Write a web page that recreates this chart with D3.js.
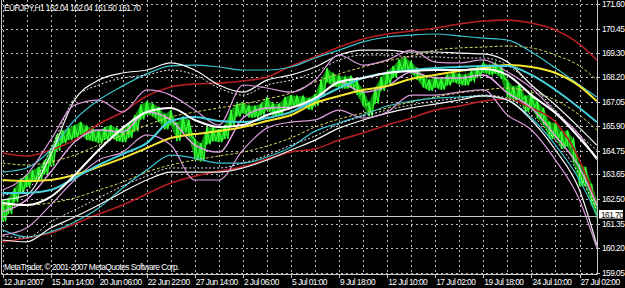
<!DOCTYPE html>
<html>
<head>
<meta charset="utf-8">
<script src="https://cdn.jsdelivr.net/npm/d3@7"></script>
<style>
  body { margin: 0; background: #000; }
  svg { display: block; }
  text { font-family: "Liberation Sans", Arial, sans-serif; font-size: 8.4px; letter-spacing: -0.55px; fill: #fff; }
</style>
</head>
<body>
<script>
// price axis labels and time axis labels
var priceTicks = [171.60, 170.45, 169.30, 168.20, 167.05, 165.90, 164.75, 163.65, 162.50, 161.35, 160.20, 159.05];
var timeLabels = ["12 Jun 2007", "15 Jun 14:00", "20 Jun 06:00", "22 Jun 22:00", "27 Jun 14:00", "2 Jul 06:00", "5 Jul 01:00",
  "9 Jul 18:00", "12 Jul 10:00", "17 Jul 02:00", "19 Jul 18:00", "24 Jul 10:00", "27 Jul 02:00"];
var lastPrice = 161.70;

// H1 price, high / low sampled every 8 bars
var priceHigh = [162.45, 162.55, 163.00, 163.45, 163.65, 163.85, 164.00, 164.30, 164.85, 165.50,
  165.70, 165.80, 165.95, 166.10, 165.90, 165.80, 165.70, 165.85, 165.95, 165.80,
  165.75, 166.00, 166.40, 166.90, 167.05, 166.95, 166.80, 166.45, 166.65, 166.05,
  166.35, 166.20, 165.30, 165.10, 165.85, 165.85, 165.75, 165.95, 166.65, 166.95,
  167.00, 166.85, 166.85, 166.95, 167.25, 166.95, 166.95, 167.25, 167.35, 167.30,
  167.30, 167.20, 167.40, 168.05, 168.60, 168.35, 168.25, 168.20, 168.25, 168.00,
  167.60, 167.00, 167.70, 168.20, 168.45, 168.70, 169.00, 169.10, 168.90, 168.60,
  168.25, 168.05, 168.20, 168.10, 168.30, 168.40, 168.35, 168.30, 168.45, 168.65,
  168.85, 168.75, 168.85, 168.70, 168.05, 167.75, 167.85, 167.30, 167.45, 167.05,
  166.75, 166.10, 166.05, 165.65, 165.70, 165.30, 164.10, 164.00, 163.20, 162.40];
var priceLow = [161.45, 161.80, 162.35, 162.80, 163.05, 163.30, 163.40, 163.65, 164.05, 164.75,
  165.10, 165.25, 165.35, 165.50, 165.25, 165.20, 165.10, 165.25, 165.40, 165.20,
  165.15, 165.35, 165.65, 166.20, 166.45, 166.35, 166.10, 165.75, 165.95, 165.20,
  165.65, 165.40, 164.35, 164.25, 165.05, 165.20, 165.15, 165.30, 165.90, 166.35,
  166.50, 166.30, 166.30, 166.40, 166.65, 166.40, 166.40, 166.70, 166.85, 166.85,
  166.85, 166.65, 166.85, 167.30, 167.95, 167.75, 167.70, 167.65, 167.70, 167.35,
  166.85, 166.35, 166.95, 167.55, 167.85, 168.15, 168.45, 168.55, 168.35, 168.05,
  167.70, 167.55, 167.70, 167.60, 167.80, 167.95, 167.85, 167.80, 168.00, 168.20,
  168.40, 168.30, 168.35, 168.10, 167.25, 167.05, 167.15, 166.55, 166.75, 166.25,
  165.95, 165.30, 165.35, 164.85, 164.95, 164.20, 163.10, 163.10, 162.20, 161.50];

// indicator lines, read every 32 bars
var lineBars = [0, 32, 64, 96, 128, 160, 192, 224, 256, 288, 320, 352, 384, 416, 448, 480, 512, 544, 576, 608, 640, 672, 704, 736, 768, 791];
var redTop = [164.65, 164.51, 164.79, 165.25, 166.00, 166.56, 167.31, 167.73, 167.87, 167.91, 168.01, 168.19, 168.71,
  169.13, 169.59, 169.97, 170.20, 170.34, 170.48, 170.67, 170.81, 170.85, 170.71, 170.39, 169.73, 168.99];
var redBottom = [160.50, 160.68, 160.92, 161.34, 161.80, 162.22, 162.74, 163.25, 163.57, 163.81, 164.00, 164.37, 164.70,
  164.84, 165.25, 165.58, 165.95, 166.28, 166.65, 166.84, 167.07, 167.17, 166.75, 166.09, 164.32, 162.22];
var yellowMa = [163.39, 163.34, 163.39, 163.62, 164.00, 164.41, 164.88, 165.35, 165.53, 165.67, 165.86, 166.14, 166.42,
  166.98, 167.31, 167.59, 167.77, 168.10, 168.29, 168.47, 168.61, 168.75, 168.66, 168.38, 167.77, 167.07];
var yellowUp = [164.18, 164.09, 164.23, 164.55, 165.02, 165.49, 165.95, 166.33, 166.56, 166.75, 166.93, 167.17, 167.45,
  167.96, 168.34, 168.66, 168.94, 169.17, 169.45, 169.55, 169.59, 169.64, 169.55, 169.22, 168.71, 168.05];
var yellowDn = [162.22, 162.22, 162.32, 162.55, 162.92, 163.29, 163.76, 164.09, 164.32, 164.51, 164.69, 164.97, 165.35,
  165.86, 166.23, 166.51, 166.75, 167.03, 167.26, 167.45, 167.59, 167.68, 167.49, 167.12, 166.42, 165.72];
var cyanMid = [162.78, 162.78, 162.92, 163.48, 164.09, 164.60, 165.11, 166.14, 166.33, 166.14, 166.09, 166.28, 166.56,
  167.12, 167.68, 168.15, 168.38, 168.52, 168.61, 168.66, 168.71, 168.71, 168.29, 167.59, 166.75, 166.09];
var cyanUp = [163.76, 163.95, 164.79, 166.19, 167.12, 167.78, 168.34, 168.71, 168.75, 168.66, 168.52, 168.52, 168.66,
  169.08, 169.45, 169.83, 170.06, 170.15, 170.20, 170.11, 170.01, 169.92, 169.36, 168.61, 167.82, 167.26];
var cyanDn = [161.06, 160.73, 160.97, 161.43, 162.08, 163.02, 163.85, 164.55, 164.41, 164.18, 164.18, 164.46, 164.93,
  165.67, 166.05, 166.42, 166.84, 167.07, 167.21, 167.26, 167.31, 167.12, 166.28, 165.02, 163.39, 161.76];
var whiteUp = [162.46, 162.69, 164.55, 167.12, 168.05, 168.38, 168.52, 168.85, 168.52, 167.82, 167.49, 168.05, 168.29,
  168.66, 169.22, 169.45, 169.45, 169.36, 169.36, 169.31, 169.27, 168.90, 167.82, 166.89, 165.82, 165.02];
var whiteMid = [162.32, 162.22, 162.60, 163.62, 164.79, 165.81, 166.56, 166.75, 166.19, 165.86, 165.95, 166.42, 166.75,
  167.21, 167.96, 168.15, 168.38, 168.47, 168.52, 168.52, 168.57, 168.29, 167.35, 166.51, 165.35, 164.41];
var whiteDn = [160.59, 160.50, 161.15, 161.66, 162.22, 162.83, 163.39, 163.76, 163.76, 163.76, 163.95, 164.32, 164.79,
  165.25, 165.81, 166.19, 166.51, 166.75, 166.93, 167.12, 167.31, 167.12, 166.19, 164.79, 162.92, 160.36];
var whiteDashUp = [162.69, 162.92, 164.79, 167.21, 167.82, 168.15, 168.29, 168.52, 168.29, 167.68, 167.35, 167.82, 168.05,
  168.43, 168.99, 169.22, 169.22, 169.13, 169.13, 169.08, 169.08, 168.75, 167.82, 166.65, 165.49, 164.79];
var whiteDashDn = [160.78, 160.68, 161.43, 161.99, 162.55, 163.11, 163.57, 163.95, 163.95, 163.95, 164.18, 164.55, 165.02,
  165.44, 166.00, 166.37, 166.65, 166.89, 167.07, 167.21, 167.35, 167.21, 166.42, 165.25, 163.62, 161.99];
var pinkUp = [162.92, 163.62, 165.25, 166.89, 167.12, 166.56, 167.59, 167.35, 166.65, 165.95, 167.82, 167.68, 167.49,
  168.05, 169.22, 168.75, 168.99, 169.45, 168.89, 168.85, 168.99, 168.43, 167.68, 166.56, 165.49, 164.32];
var pinkMid = [161.90, 162.46, 163.76, 165.16, 165.72, 165.63, 166.56, 166.19, 165.02, 164.69, 166.28, 166.75, 166.79,
  167.12, 167.96, 167.49, 167.77, 168.43, 168.15, 168.15, 168.29, 167.45, 166.75, 165.44, 163.95, 162.22];
var pinkDn = [160.82, 161.15, 162.22, 163.39, 164.32, 164.69, 165.49, 165.02, 163.39, 163.39, 164.79, 165.81, 166.09,
  166.19, 166.65, 166.28, 166.56, 167.35, 167.35, 167.49, 167.59, 166.42, 165.72, 164.32, 162.46, 160.22];

var width = 625, height = 288;
var plot = { left: 1, right: 597, top: 0, bottom: 274 };

var svg = d3.select("body").append("svg").attr("width", width).attr("height", height)
  .style("background", "#000");

var x = d3.scaleLinear().domain([0, 768]).range([2.5, 579.5]);
var y = d3.scaleLinear().domain([159.05, 171.60]).range([273, 4]);

svg.append("clipPath").attr("id", "plotclip").append("rect")
  .attr("x", plot.left).attr("y", plot.top)
  .attr("width", plot.right - plot.left).attr("height", plot.bottom - plot.top);

// grid
var grid = svg.append("g").attr("stroke", "#bdbdbd").attr("stroke-width", 1).attr("stroke-dasharray", "2,3");
grid.selectAll("line.h").data(priceTicks).enter().append("line")
  .attr("x1", plot.left).attr("x2", plot.right)
  .attr("y1", d => Math.round(y(d)) + 0.5).attr("y2", d => Math.round(y(d)) + 0.5);
grid.selectAll("line.v").data(d3.range(0, 800, 32)).enter().append("line")
  .attr("x1", d => Math.round(x(d)) + 0.5).attr("x2", d => Math.round(x(d)) + 0.5)
  .attr("y1", plot.top).attr("y2", plot.bottom);

var chart = svg.append("g").attr("clip-path", "url(#plotclip)");

// price bars: hi/lo band, then bar spikes and a zigzag on top
var priceBars = d3.range(priceHigh.length).map(i => i * 8);
var band = d3.area().x(d => x(d)).y0((d, i) => y(priceLow[i])).y1((d, i) => y(priceHigh[i]));
chart.append("path").attr("d", band(priceBars)).attr("fill", "#0e940e");
var zig = d3.path();
priceBars.forEach(function (b, i) {
  var x0 = x(b);
  if (i === 0) zig.moveTo(x0, y(priceHigh[i])); else zig.lineTo(x0, y(priceHigh[i]));
  zig.lineTo(x0 + 3, y(priceLow[i]));
});
chart.append("path").attr("d", zig.toString()).attr("fill", "none")
  .attr("stroke", "#2cff2c").attr("stroke-width", 1.3);
chart.selectAll("line.bar").data(priceBars).enter().append("line")
  .attr("x1", d => x(d)).attr("x2", d => x(d))
  .attr("y1", (d, i) => y(priceHigh[i])).attr("y2", (d, i) => y(priceLow[i]))
  .attr("stroke", "#3cff3c").attr("stroke-width", 1.5);

// indicator lines
var series = [
  { v: redTop, c: "#b51e23", w: 1.6 },
  { v: redBottom, c: "#b51e23", w: 1.6 },
  { v: yellowUp, c: "#d8d45a", w: 1, dash: "3,2" },
  { v: yellowDn, c: "#d8d45a", w: 1, dash: "3,2" },
  { v: cyanUp, c: "#3cc4cc", w: 1.2 },
  { v: cyanDn, c: "#3cc4cc", w: 1.2 },
  { v: whiteDashUp, c: "#e8e8e8", w: 1, dash: "2,2" },
  { v: whiteDashDn, c: "#e8e8e8", w: 1, dash: "2,2" },
  { v: whiteUp, c: "#f4f4f4", w: 1.2 },
  { v: whiteDn, c: "#f4f4f4", w: 1.2 },
  { v: pinkUp, c: "#d79ad9", w: 1.2 },
  { v: pinkDn, c: "#d79ad9", w: 1.2 },
  { v: pinkMid, c: "#e6a6e6", w: 1.4 },
  { v: yellowMa, c: "#f4e531", w: 2 },
  { v: cyanMid, c: "#45d0dc", w: 2 },
  { v: whiteMid, c: "#ffffff", w: 2 }
];
var line = d3.line().x(d => x(d[0])).y(d => y(d[1])).curve(d3.curveMonotoneX);
chart.selectAll("path.ind").data(series).enter().append("path")
  .attr("d", s => line(lineBars.map((b, i) => [b, s.v[i]])))
  .attr("fill", "none")
  .attr("stroke", s => s.c)
  .attr("stroke-width", s => s.w)
  .attr("stroke-dasharray", s => s.dash || null);

// last price line
svg.append("line").attr("x1", plot.left).attr("x2", plot.right)
  .attr("y1", Math.round(y(lastPrice)) + 0.5).attr("y2", Math.round(y(lastPrice)) + 0.5)
  .attr("stroke", "#c8c8c8").attr("stroke-width", 1);

// frame
svg.append("path")
  .attr("d", "M" + (plot.left + 0.5) + "," + plot.top + "V" + (plot.bottom + 0.5) + "H" + (plot.right + 0.5) + "V" + plot.top)
  .attr("fill", "none").attr("stroke", "#c8c8c8").attr("stroke-width", 1);

// right axis
var yAxis = svg.append("g");
yAxis.selectAll("line").data(priceTicks).enter().append("line")
  .attr("x1", plot.right).attr("x2", plot.right + 3)
  .attr("y1", d => Math.round(y(d)) + 0.5).attr("y2", d => Math.round(y(d)) + 0.5)
  .attr("stroke", "#c8c8c8");
yAxis.selectAll("text").data(priceTicks).enter().append("text")
  .attr("x", 602).attr("y", d => y(d) + 3)
  .text(d => d3.format(".2f")(d));

var box = svg.append("g").attr("transform", "translate(599," + Math.round(y(lastPrice)) + ")");
box.append("rect").attr("x", 0).attr("y", -6).attr("width", 24).attr("height", 8.5).attr("fill", "#fff");
box.append("text").attr("x", 2).attr("y", 1.5).style("fill", "#000").text(d3.format(".2f")(lastPrice));

// bottom axis
var xAxis = svg.append("g");
xAxis.selectAll("line").data(timeLabels).enter().append("line")
  .attr("x1", (d, i) => Math.round(x(i * 64)) + 0.5).attr("x2", (d, i) => Math.round(x(i * 64)) + 0.5)
  .attr("y1", plot.bottom).attr("y2", plot.bottom + 4)
  .attr("stroke", "#c8c8c8");
xAxis.selectAll("text").data(timeLabels).enter().append("text")
  .attr("x", (d, i) => x(i * 64) + 1).attr("y", 285)
  .text(d => d);

// captions
svg.append("text").attr("x", 4).attr("y", 11).text("EURJPY,H1  162.04 162.04 161.50 161.70");
svg.append("text").attr("x", 4).attr("y", 270).text("MetaTrader, \u00a9 2001-2007 MetaQuotes Software Corp.");
</script>
</body>
</html>
